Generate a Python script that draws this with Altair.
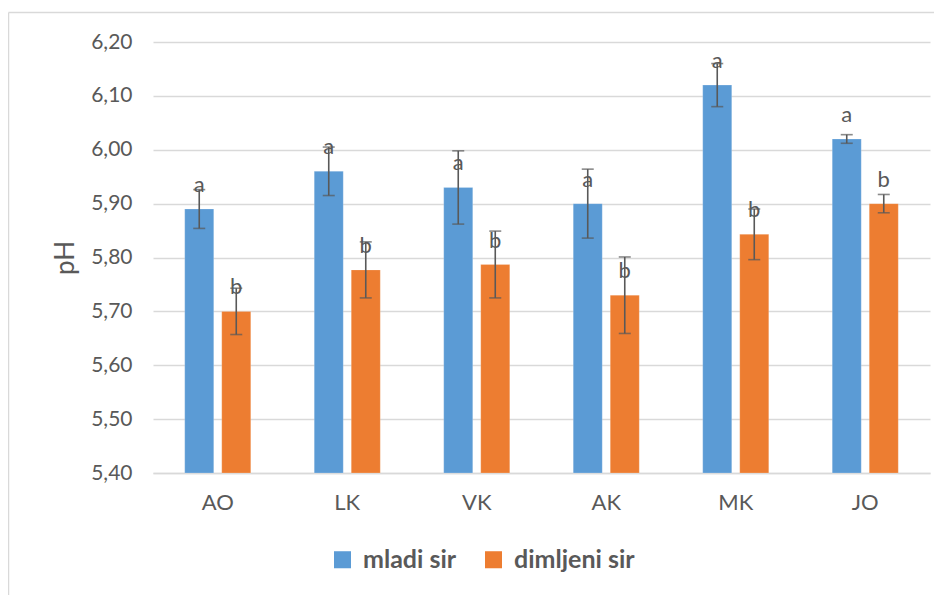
import altair as alt
import pandas as pd

categories = ["AO", "LK", "VK", "AK", "MK", "JO"]
series_names = ["mladi sir", "dimljeni sir"]
mladi = [5.89, 5.96, 5.93, 5.90, 6.12, 6.02]
mladi_err = [0.036, 0.045, 0.068, 0.064, 0.040, 0.008]
mladi_lbl = ["a", "a", "a", "a", "a", "a"]
dimljeni = [5.70, 5.777, 5.787, 5.73, 5.843, 5.90]
dimljeni_err = [0.043, 0.052, 0.062, 0.071, 0.047, 0.017]
dimljeni_lbl = ["b", "b", "b", "b", "b", "b"]
y_ticks = [5.4, 5.5, 5.6, 5.7, 5.8, 5.9, 6.0, 6.1, 6.2]

rows = []
for i, c in enumerate(categories):
    rows.append(dict(cat=c, series=series_names[0], val=mladi[i], err=mladi_err[i], lbl=mladi_lbl[i]))
    rows.append(dict(cat=c, series=series_names[1], val=dimljeni[i], err=dimljeni_err[i], lbl=dimljeni_lbl[i]))
df = pd.DataFrame(rows)
df["lo"] = df["val"] - df["err"]
df["hi"] = df["val"] + df["err"]

FONT = "Lato"
GRAY = "#595959"

x = alt.X("cat:N", sort=categories, title=None,
          scale=alt.Scale(paddingInner=0.49, paddingOuter=0.245),
          axis=alt.Axis(labelAngle=0, labelFontSize=22, labelColor=GRAY, labelFont=FONT,
                        labelPadding=19, ticks=False, domainColor="#d9d9d9", domainWidth=1.3))
xoff = alt.XOffset("series:N", sort=series_names,
                   scale=alt.Scale(paddingInner=0.216, paddingOuter=0))
yscale = alt.Scale(domain=[5.4, 6.2], zero=False, nice=False)
color = alt.Color("series:N", sort=series_names,
                  scale=alt.Scale(domain=series_names, range=["#5B9BD5", "#ED7D31"]),
                  legend=alt.Legend(title=None, orient="none", direction="horizontal",
                                    legendX=177, legendY=505, symbolType="square",
                                    symbolSize=290, symbolStrokeWidth=0, labelFontSize=25,
                                    labelFontWeight="bold", labelColor=GRAY, labelFont=FONT,
                                    labelOffset=8, columnPadding=24, padding=0))

base = alt.Chart(df)

bars = base.mark_bar(stroke="#ffffff", strokeWidth=0.5, strokeOpacity=0.4).encode(
    x=x, xOffset=xoff,
    y=alt.Y("val:Q", scale=yscale, title="pH",
            axis=alt.Axis(values=y_ticks, labelExpr="replace(format(datum.value, '.2f'), '.', ',')",
                          labelFontSize=21, labelColor=GRAY, labelFont=FONT, labelPadding=21,
                          ticks=False, domain=False, gridColor="#d9d9d9", gridWidth=1.3,
                          titleFontSize=26, titleColor=GRAY, titleFont=FONT,
                          titleFontWeight="normal", titlePadding=12)),
    y2=alt.datum(5.4),
    color=color,
)

rules = base.mark_rule(color=GRAY, strokeWidth=1.6).encode(
    x=x, xOffset=xoff,
    y=alt.Y("lo:Q", scale=yscale), y2="hi:Q",
)
cap_lo = base.mark_tick(color=GRAY, thickness=1.6, size=12, orient="horizontal").encode(
    x=x, xOffset=xoff, y=alt.Y("lo:Q", scale=yscale),
)
cap_hi = base.mark_tick(color=GRAY, thickness=1.6, size=12, orient="horizontal").encode(
    x=x, xOffset=xoff, y=alt.Y("hi:Q", scale=yscale),
)
labels = base.mark_text(dy=-24, fontSize=22, color=GRAY, font=FONT, baseline="middle").encode(
    x=x, xOffset=xoff, y=alt.Y("val:Q", scale=yscale), text="lbl:N",
)

# chart-area frame (Excel style), left and top edges
frame_left = alt.Chart(pd.DataFrame({"k": [0]})).mark_rule(color="#d9d9d9", strokeWidth=1.5).encode(
    x=alt.value(-144.5), y=alt.value(-29.5), y2=alt.value(620))
frame_top = alt.Chart(pd.DataFrame({"k": [0]})).mark_rule(color="#d9d9d9", strokeWidth=1.5).encode(
    x=alt.value(-144.5), x2=alt.value(800), y=alt.value(-29.5))

chart = alt.layer(frame_left, frame_top, bars, rules, cap_lo, cap_hi, labels).properties(
    width=777, height=431,
    autosize=alt.AutoSizeParams(type="none"),
    padding={"left": 145, "top": 34, "right": 4, "bottom": 126},
).configure_view(stroke=None)

chart.save("out.html", embed_options={"renderer": "svg", "actions": False})
